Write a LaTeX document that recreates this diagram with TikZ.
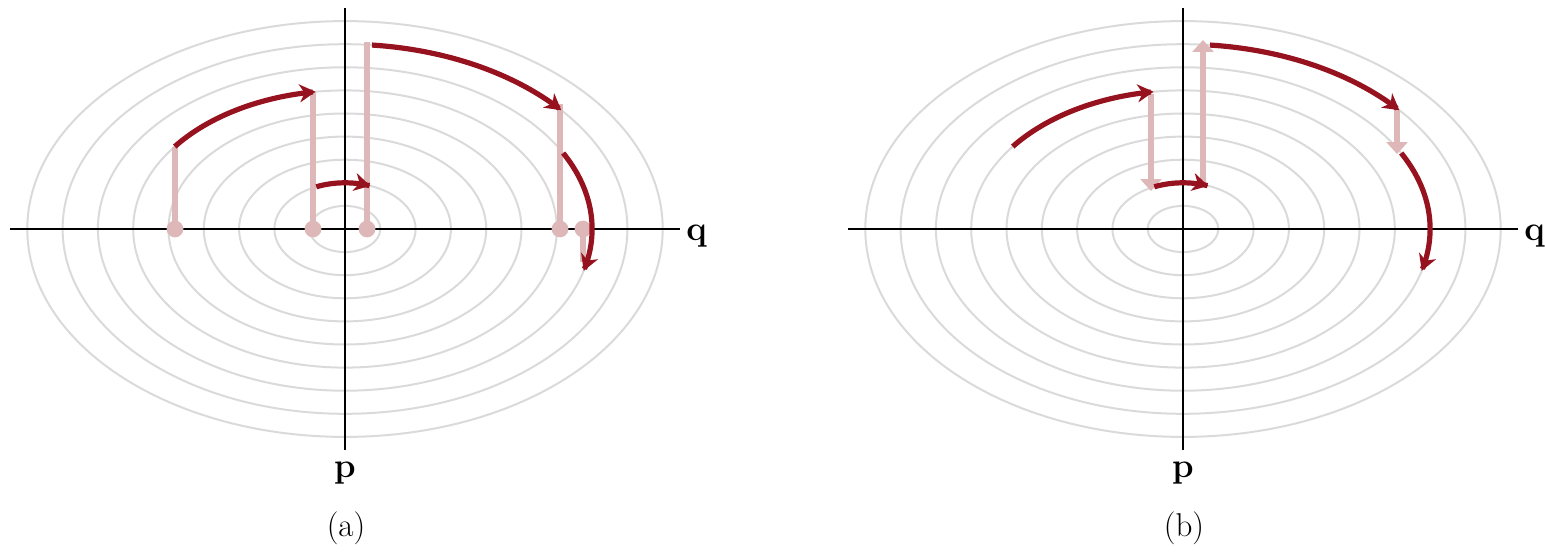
\documentclass[tikz,border=0pt]{standalone}
\usetikzlibrary{arrows.meta}
\definecolor{dred}{RGB}{150,18,30}
\definecolor{lpink}{RGB}{222,184,184}
\definecolor{lgray}{RGB}{218,218,218}
% elliptic arc on ring k around centre (cx,229), angles t1 -> t2
\newcommand\ringarc[5]{%
  \draw[#5] plot[domain=#3:#4,samples=60] ({#1+35.3*#2*cos(\x)},{229-23.1*#2*sin(\x)});}
\begin{document}
\begin{tikzpicture}[x=0.5pt,y=-0.5pt,
  redarc/.style={dred,line width=2.6pt,-{Stealth[length=8pt,width=9pt,inset=2.5pt]}},
  pinkline/.style={lpink,line width=3.3pt},
  pinkarrow/.style={lpink,line width=3pt,-{Triangle[length=6pt,width=10.5pt]}},
  pinkdot/.style={fill=lpink},
  axisline/.style={black,line width=0.9pt},
  ring/.style={lgray,line width=1pt},
  lbl/.style={font=\fontsize{16.5}{19}\selectfont,inner sep=0pt}]
\useasboundingbox (0,0) rectangle (1545,551);
% rings
\foreach \cx in {345,1183}{
  \foreach \k in {1,...,9}
    \draw[ring] (\cx,229) ellipse[x radius={17.65pt*\k}, y radius={11.55pt*\k}];
}
% axes and labels, panel (a)
\node[lbl,anchor=west] (qa) at (686,236) {$\mathbf{q}$};
\node[lbl,anchor=north] (pa) at (345,462) {$\mathbf{p}$};
\coordinate (la) at (10,229);
\coordinate (ta) at (345,8);
\draw[axisline] (la) -- (680,229);
\draw[axisline] (ta) -- (345,450);
\node[lbl] (capa) at (346,528) {(a)};
% axes and labels, panel (b)
\node[lbl,anchor=west] (qb) at (1524,236) {$\mathbf{q}$};
\node[lbl,anchor=north] (pb) at (1183,462) {$\mathbf{p}$};
\coordinate (lb) at (848,229);
\coordinate (tb) at (1183,8);
\draw[axisline] (lb) -- (1518,229);
\draw[axisline] (tb) -- (1183,450);
\node[lbl] (capb) at (1184,528) {(b)};
% panel (a): pink lifts
\draw[pinkline] (175,229) -- (175,147);
\draw[pinkline] (313,229) -- (313,92);
\draw[pinkline] (367,229) -- (367,42);
\draw[pinkline] (560,229) -- (560,104);
\draw[pinkline] (583,229) -- (583,262);
\foreach \px in {175,313,367,560,583}
  \fill[pinkdot] (\px,229) circle[radius=4.2pt];
% panel (a): red arcs
\ringarc{345}{6}{143.5}{98}{redarc}
\ringarc{345}{2}{114}{69}{redarc}
\ringarc{345}{8}{84.5}{40}{redarc}
\ringarc{345}{7}{28}{-15}{redarc}
% panel (b): pink arrows
\draw[pinkarrow] (1151,94) -- (1151,191);
\draw[pinkarrow] (1203,184) -- (1203,40);
\draw[pinkarrow] (1397,110) -- (1397,154);
% panel (b): red arcs
\ringarc{1183}{6}{143.5}{98}{redarc}
\ringarc{1183}{2}{114}{69}{redarc}
\ringarc{1183}{8}{84.5}{40}{redarc}
\ringarc{1183}{7}{28}{-15}{redarc}
\end{tikzpicture}
\end{document}
